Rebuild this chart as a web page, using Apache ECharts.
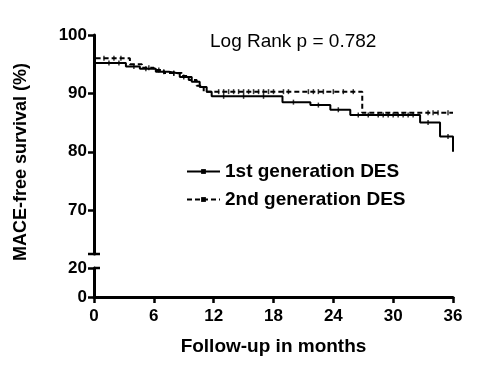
<!DOCTYPE html>
<html>
<head>
<meta charset="utf-8">
<script src="https://cdn.jsdelivr.net/npm/echarts@6/dist/echarts.min.js"></script>
<style>html,body{margin:0;padding:0;background:#fff}#c{width:503px;height:380px}</style>
</head>
<body>
<div id="c"></div>
<script>
// ---- data ----
const xTicks = [0, 6, 12, 18, 24, 30, 36];
const yTicksUpper = [70, 80, 90, 100];
const yTicksLower = [0, 20];

// 1st generation DES (solid): time of step, survival from that time on
const months1 = [0, 0.1, 3.2, 4.6, 6.2, 7.5, 8.6, 9.8, 10.6, 11.3, 11.8, 18.9, 21.7, 23.7, 25.7, 32.7, 34.7, 36];
const surv1   = [100, 95.2, 94.6, 94.2, 93.7, 93.4, 92.8, 92.0, 91.1, 90.3, 89.5, 88.5, 88.0, 87.2, 86.3, 85.0, 82.6, 80.0];
// 2nd generation DES (dashed)
const months2 = [0, 0.1, 3.6, 4.8, 6.0, 7.0, 8.8, 9.5, 10.3, 11.0, 26.9, 36];
const surv2   = [100, 96.0, 95.0, 94.4, 94.0, 93.5, 93.0, 92.3, 91.3, 90.3, 86.7, 86.7];

// censoring times
const censor1 = [1.5, 2.5, 4, 5.2, 7, 8, 9, 13, 15, 17, 20, 22.5, 24.5, 26.5, 27.5, 28.5, 29, 29.5, 30, 30.5, 31, 31.5, 32, 33.5, 35.5];
const censor2 = [1, 2, 2.7, 5.5, 6.5, 8, 12.5, 13, 13.5, 14, 14.5, 15, 15.5, 16, 16.5, 17, 17.5, 18, 19, 19.5, 21.5, 22, 22.5, 23, 24, 25, 26, 33.5, 34, 34.5, 35.5];

const names = ['1st generation DES', '2nd generation DES'];
const pTitle = 'Log Rank p = 0.782';
const xTitle = 'Follow-up in months';
const yTitle = 'MACE-free survival (%)';

function stepAt(ts, ss, t) {
  let v = ss[0];
  for (let i = 0; i < ts.length; i++) { if (ts[i] <= t) v = ss[i]; }
  return v;
}
const pts1 = months1.map((t, i) => [t, surv1[i]]);
const pts2 = months2.map((t, i) => [t, surv2[i]]);
const cen1 = censor1.map(t => [t, stepAt(months1, surv1, t)]);
const cen2 = censor2.map(t => [t, stepAt(months2, surv2, t)]);

const FONT = '"Liberation Sans", Arial, sans-serif';
const axisLineStyle = { color: '#000', width: 3 };
const tickStyle = { show: true, length: 6, lineStyle: { color: '#000', width: 2.5 } };
const labelStyle = { color: '#000', fontWeight: 'bold', fontSize: 17, fontFamily: FONT };

const chart = echarts.init(document.getElementById('c'), null, { renderer: 'canvas' });
const option = {
  animation: false,
  backgroundColor: '#fff',
  title: {
    text: pTitle, left: 205, top: 27,
    textStyle: { fontSize: 19, fontWeight: 'normal', color: '#000', fontFamily: FONT }
  },
  legend: {
    data: names,
    orient: 'vertical', left: 181, top: 157,
    itemWidth: 33, itemHeight: 6, itemGap: 9,
    textStyle: { color: '#000', fontWeight: 'bold', fontSize: 19, fontFamily: FONT },
    selectedMode: false
  },
  grid: [
    { left: 94, right: 50, top: 35, height: 219 },
    { left: 94, right: 50, top: 268, height: 29 }
  ],
  xAxis: [
    { gridIndex: 0, type: 'value', min: 0, max: 36, interval: 6, show: false },
    {
      gridIndex: 1, type: 'value', min: 0, max: 36, interval: 6,
      axisLine: { lineStyle: axisLineStyle }, axisTick: tickStyle,
      axisLabel: Object.assign({ margin: 11, customValues: xTicks }, labelStyle),
      splitLine: { show: false },
      name: xTitle, nameLocation: 'middle', nameGap: 40,
      nameTextStyle: { color: '#000', fontWeight: 'bold', fontSize: 19, fontFamily: FONT }
    }
  ],
  yAxis: [
    {
      gridIndex: 0, type: 'value', min: 62.5, max: 100,
      axisLine: { show: true, lineStyle: axisLineStyle },
      axisTick: Object.assign({ customValues: yTicksUpper }, tickStyle),
      axisLabel: Object.assign({ margin: 7, customValues: yTicksUpper }, labelStyle),
      splitLine: { show: false }
    },
    {
      gridIndex: 1, type: 'value', min: 0, max: 20, interval: 20,
      axisLine: { show: true, lineStyle: axisLineStyle },
      axisTick: Object.assign({ customValues: yTicksLower }, tickStyle),
      axisLabel: Object.assign({ margin: 7, customValues: yTicksLower }, labelStyle),
      splitLine: { show: false }
    }
  ],
  series: [
    {
      name: names[0], type: 'line', step: 'end', data: pts1,
      xAxisIndex: 0, yAxisIndex: 0,
      symbol: 'rect', symbolSize: [2, 6], showSymbol: false,
      lineStyle: { color: '#000', width: 2, type: 'solid' },
      itemStyle: { color: '#000' }, z: 3
    },
    {
      name: names[1], type: 'line', step: 'end', data: pts2,
      xAxisIndex: 0, yAxisIndex: 0,
      symbol: 'rect', symbolSize: [2, 6], showSymbol: false,
      lineStyle: { color: '#000', width: 2, type: [5, 3] },
      itemStyle: { color: '#000' }, z: 3
    },
    {
      type: 'scatter', data: cen1, xAxisIndex: 0, yAxisIndex: 0,
      symbol: 'rect', symbolSize: [1.5, 5], itemStyle: { color: '#000' }, silent: true, z: 4
    },
    {
      type: 'scatter', data: cen2, xAxisIndex: 0, yAxisIndex: 0,
      symbol: 'rect', symbolSize: [1.5, 5], itemStyle: { color: '#000' }, silent: true, z: 4
    }
  ]
};
chart.setOption(option);

// axis-break caps and rotated y title
const capBottom = chart.convertToPixel({ gridIndex: 0 }, [0, 62.5]);
const capTop = chart.convertToPixel({ gridIndex: 1 }, [0, 20]);
const yMidTop = chart.convertToPixel({ gridIndex: 0 }, [0, 100])[1];
const yMidBot = chart.convertToPixel({ gridIndex: 1 }, [0, 0])[1];
chart.setOption({
  graphic: [
    { type: 'line', shape: { x1: capBottom[0] - 6, y1: capBottom[1], x2: capBottom[0] + 6, y2: capBottom[1] }, style: { stroke: '#000', lineWidth: 2.5 } },
    { type: 'line', shape: { x1: capTop[0], y1: capTop[1], x2: capTop[0] + 6, y2: capTop[1] }, style: { stroke: '#000', lineWidth: 2.5 } },
    {
      type: 'text', x: 21, y: (yMidTop + yMidBot) / 2 - 4, rotation: Math.PI / 2,
      style: { text: yTitle, fill: '#000', font: 'bold 18px ' + FONT, align: 'center', verticalAlign: 'middle' }
    }
  ]
});
</script>
</body>
</html>
